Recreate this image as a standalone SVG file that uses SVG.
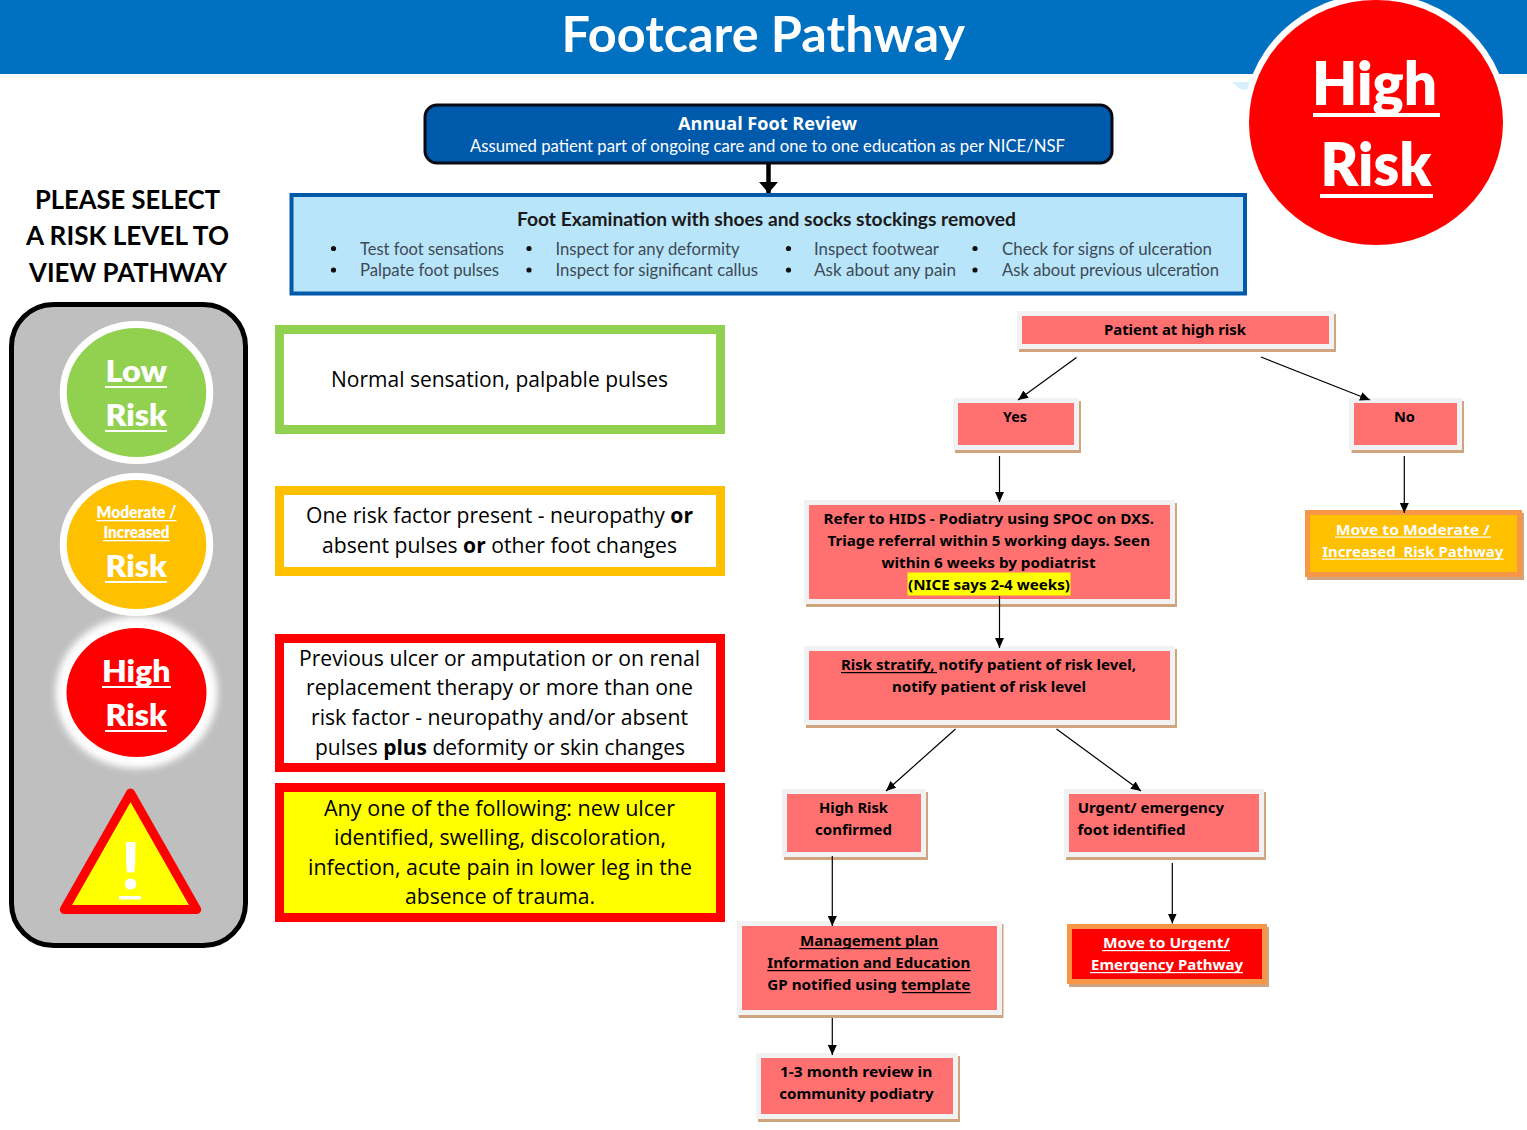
<svg xmlns="http://www.w3.org/2000/svg" width="1527" height="1130" viewBox="0 0 1527 1130">
<style>
text{font-family:"Lato","Liberation Sans",sans-serif}
.w{fill:#fff;font-weight:800}
.ul{fill:#fff}
.ub{fill:#000}
.sh{fill:#cfa57f}
.pk{fill:#ff7070;stroke:#f2f2f2;stroke-width:5}
.fc{font-family:"Noto Sans","Liberation Sans",sans-serif;font-size:15px;font-weight:700;fill:#000;white-space:pre}
.fw{fill:#fff}
.mid{font-family:"Open Sans","Liberation Sans",sans-serif;font-size:21px;fill:#000}
.bx{stroke-width:9}
.it{font-size:18px;fill:#3d4a55}
.bu{fill:#111}
.cn{fill:none;stroke:#000;stroke-width:1.2;marker-end:url(#a)}
</style>
<defs>
<marker id="a" markerUnits="userSpaceOnUse" markerWidth="11" markerHeight="11" refX="10" refY="5" orient="auto"><path d="M0 0.5L10 5L0 9.5Z" fill="#000"/></marker>
<marker id="b" markerUnits="userSpaceOnUse" markerWidth="20" markerHeight="12" refX="10" refY="11" orient="0"><path d="M0.5 0H19.5L10 11Z" fill="#000"/></marker>
<filter id="g" x="-30%" y="-30%" width="160%" height="160%"><feGaussianBlur stdDeviation="3.5"/></filter>
</defs>
<rect width="1527" height="1130" fill="#fff"/>
<g id="header"><rect width="1527" height="74" fill="#0070c0"/>
<text x="561.5" y="52" textLength="403.5" lengthAdjust="spacingAndGlyphs" font-size="50" font-weight="700" fill="#fff">Footcare Pathway</text></g>
<g id="high-risk-badge"><polygon points="1232,82 1250,82 1247,90 1240,89" fill="#d8f0fb"/>
<ellipse cx="1376" cy="122.5" rx="133" ry="129" fill="#fff"/>
<ellipse cx="1376" cy="122.5" rx="127" ry="122.5" fill="#f00"/>
<text class="w" x="1312" y="105" textLength="125" lengthAdjust="spacingAndGlyphs" font-size="60">High</text><rect class="ul" x="1313" y="113" width="127" height="4"/>
<text class="w" x="1320.5" y="186" textLength="111" lengthAdjust="spacingAndGlyphs" font-size="60">Risk</text><rect class="ul" x="1320" y="194" width="113" height="4"/></g>
<g id="select-heading" font-size="27" font-weight="700" fill="#000">
<text x="35" y="209" textLength="185" lengthAdjust="spacingAndGlyphs">PLEASE SELECT</text>
<text x="26" y="245" textLength="203" lengthAdjust="spacingAndGlyphs">A RISK LEVEL TO</text>
<text x="29" y="282" textLength="198" lengthAdjust="spacingAndGlyphs">VIEW PATHWAY</text></g>
<g id="risk-panel"><rect x="11.5" y="304.5" width="234" height="641" rx="42" fill="#bfbfbf" stroke="#000" stroke-width="5"/></g>
<g id="low-risk"><ellipse cx="136.5" cy="392.5" rx="73.25" ry="68" fill="#92d050" stroke="#fff" stroke-width="7"/>
<text class="w" x="105.5" y="381.5" textLength="61.5" lengthAdjust="spacingAndGlyphs" font-size="31">Low</text><rect class="ul" x="105" y="386" width="62" height="2"/>
<text class="w" x="105.5" y="425.5" textLength="61.5" lengthAdjust="spacingAndGlyphs" font-size="31">Risk</text><rect class="ul" x="105" y="430" width="62" height="2"/></g>
<g id="moderate-risk"><ellipse cx="136.5" cy="544.5" rx="73.25" ry="68" fill="#ffc000" stroke="#fff" stroke-width="7"/>
<text class="w" x="96.5" y="518" textLength="80" lengthAdjust="spacingAndGlyphs" font-size="16">Moderate /</text><rect class="ul" x="96.5" y="520" width="80" height="1.3"/>
<text class="w" x="103.5" y="538" textLength="66" lengthAdjust="spacingAndGlyphs" font-size="16">Increased</text><rect class="ul" x="103" y="540" width="67" height="1.3"/>
<text class="w" x="105.5" y="576.5" textLength="61.5" lengthAdjust="spacingAndGlyphs" font-size="31">Risk</text><rect class="ul" x="105" y="581" width="62" height="2"/></g>
<g id="high-risk"><ellipse cx="136.5" cy="692.5" rx="81" ry="76" fill="#fff" filter="url(#g)"/>
<ellipse cx="136.5" cy="692.5" rx="70" ry="64.5" fill="#f00"/>
<text class="w" x="102" y="681.5" textLength="68.5" lengthAdjust="spacingAndGlyphs" font-size="31">High</text><rect class="ul" x="102" y="686" width="69" height="2"/>
<text class="w" x="105.5" y="725.5" textLength="61.5" lengthAdjust="spacingAndGlyphs" font-size="31">Risk</text><rect class="ul" x="105" y="730" width="62" height="2"/></g>
<g id="urgent-warning"><polygon points="130.5,793 64.3,909.5 196.7,909.5" fill="#ff0" stroke="#f00" stroke-width="9" stroke-linejoin="round"/>
<text class="w" x="130.5" y="889" text-anchor="middle" font-size="64">!</text><rect class="ul" x="119" y="896" width="22" height="3.5"/></g>

<g id="annual-review"><rect x="425" y="105" width="687" height="58" rx="12" fill="#005aab" stroke="#0a0a14" stroke-width="3"/>
<text x="678" y="130" textLength="179" lengthAdjust="spacingAndGlyphs" style="font-family:'Open Sans','Liberation Sans',sans-serif" font-size="18" font-weight="700" fill="#fff">Annual Foot Review</text>
<text x="470" y="152" textLength="595" lengthAdjust="spacingAndGlyphs" font-size="18" fill="#fff">Assumed patient part of ongoing care and one to one education as per NICE/NSF</text></g>
<g id="foot-examination"><rect x="291.5" y="195" width="953.5" height="98.5" fill="#b9e5fb" stroke="#0059a9" stroke-width="4"/>
<text x="517" y="226" textLength="499" lengthAdjust="spacingAndGlyphs" font-size="19" font-weight="700" fill="#1a1a1a">Foot Examination with shoes and socks stockings removed</text>
<g class="bu"><circle cx="333.5" cy="248.5" r="2.6"/><circle cx="333.5" cy="270" r="2.6"/><circle cx="529" cy="248.5" r="2.6"/><circle cx="529" cy="270" r="2.6"/><circle cx="788.5" cy="248.5" r="2.6"/><circle cx="788.5" cy="270" r="2.6"/><circle cx="975" cy="248.5" r="2.6"/><circle cx="975" cy="270" r="2.6"/></g>
<text class="it" x="360" y="255" textLength="144" lengthAdjust="spacingAndGlyphs">Test foot sensations</text>
<text class="it" x="360" y="276" textLength="139" lengthAdjust="spacingAndGlyphs">Palpate foot pulses</text>
<text class="it" x="555.5" y="255" textLength="184" lengthAdjust="spacingAndGlyphs">Inspect for any deformity</text>
<text class="it" x="555.5" y="276" textLength="202.5" lengthAdjust="spacingAndGlyphs">Inspect for significant callus</text>
<text class="it" x="814" y="255" textLength="125" lengthAdjust="spacingAndGlyphs">Inspect footwear</text>
<text class="it" x="814" y="276" textLength="142" lengthAdjust="spacingAndGlyphs">Ask about any pain</text>
<text class="it" x="1002" y="255" textLength="210" lengthAdjust="spacingAndGlyphs">Check for signs of ulceration</text>
<text class="it" x="1002" y="276" textLength="217" lengthAdjust="spacingAndGlyphs">Ask about previous ulceration</text></g>

<g id="criteria-low"><rect class="bx" x="279.5" y="329.5" width="441" height="100" fill="#fff" stroke="#92d050"/>
<text class="mid" x="331" y="387" textLength="337" lengthAdjust="spacingAndGlyphs">Normal sensation, palpable pulses</text></g>
<g id="criteria-moderate"><rect class="bx" x="279.5" y="490.5" width="441" height="81" fill="#fff" stroke="#ffc000"/>
<text class="mid" x="306" y="523" textLength="387" lengthAdjust="spacingAndGlyphs">One risk factor present - neuropathy <tspan font-weight="700">or</tspan></text>
<text class="mid" x="322" y="553" textLength="355" lengthAdjust="spacingAndGlyphs">absent pulses <tspan font-weight="700">or</tspan> other foot changes</text></g>
<g id="criteria-high"><rect class="bx" x="279.5" y="638.5" width="441" height="129" fill="#fff" stroke="#f00"/>
<text class="mid" x="299" y="666" textLength="401" lengthAdjust="spacingAndGlyphs">Previous ulcer or amputation or on renal</text>
<text class="mid" x="306" y="695" textLength="387" lengthAdjust="spacingAndGlyphs">replacement therapy or more than one</text>
<text class="mid" x="311" y="725" textLength="377" lengthAdjust="spacingAndGlyphs">risk factor - neuropathy and/or absent</text>
<text class="mid" x="315" y="755" textLength="370" lengthAdjust="spacingAndGlyphs">pulses <tspan font-weight="700">plus</tspan> deformity or skin changes</text></g>
<g id="criteria-urgent"><rect class="bx" x="279.5" y="787.5" width="441" height="130" fill="#ff0" stroke="#f00"/>
<text class="mid" x="324" y="816" textLength="351" lengthAdjust="spacingAndGlyphs">Any one of the following: new ulcer</text>
<text class="mid" x="334" y="845" textLength="332" lengthAdjust="spacingAndGlyphs">identified, swelling, discoloration,</text>
<text class="mid" x="308" y="875" textLength="384" lengthAdjust="spacingAndGlyphs">infection, acute pain in lower leg in the</text>
<text class="mid" x="405" y="904" textLength="190" lengthAdjust="spacingAndGlyphs">absence of trauma.</text></g>

<g id="patient-high-risk"><rect class="sh" x="1019" y="314" width="317" height="38"/><rect class="pk" x="1019.5" y="313.5" width="312" height="33"/>
<text class="fc" x="1104" y="335" textLength="142" lengthAdjust="spacingAndGlyphs">Patient at high risk</text></g>
<g id="yes"><rect class="sh" x="955" y="401" width="126" height="52"/><rect class="pk" x="955.5" y="400.5" width="121" height="47"/>
<text class="fc" x="1003" y="422" textLength="24" lengthAdjust="spacingAndGlyphs">Yes</text></g>
<g id="no"><rect class="sh" x="1351.5" y="401" width="112.5" height="52"/><rect class="pk" x="1351.5" y="400.5" width="108" height="47"/>
<text class="fc" x="1394" y="422" textLength="21" lengthAdjust="spacingAndGlyphs">No</text></g>
<g id="refer-hids"><rect class="sh" x="806" y="503" width="371" height="104"/><rect class="pk" x="806.5" y="502.5" width="366" height="99"/>
<rect x="907.5" y="572.5" width="163" height="23" fill="#ff0"/>
<text class="fc" x="823.5" y="524" textLength="330.5" lengthAdjust="spacingAndGlyphs">Refer to HIDS - Podiatry using SPOC on DXS.</text>
<text class="fc" x="827.5" y="546" textLength="322.5" lengthAdjust="spacingAndGlyphs">Triage referral within 5 working days. Seen</text>
<text class="fc" x="881.5" y="568" textLength="214" lengthAdjust="spacingAndGlyphs">within 6 weeks by podiatrist</text>
<text class="fc" x="908" y="590" textLength="162" lengthAdjust="spacingAndGlyphs">(NICE says 2-4 weeks)</text></g>
<g id="risk-stratify"><rect class="sh" x="806" y="649" width="371" height="79"/><rect class="pk" x="806.5" y="648.5" width="366" height="74"/>
<text class="fc" x="841" y="670" textLength="295" lengthAdjust="spacingAndGlyphs">Risk stratify, notify patient of risk level,</text><rect class="ub" x="841" y="672" width="96" height="1.2"/>
<text class="fc" x="892" y="692" textLength="194" lengthAdjust="spacingAndGlyphs">notify patient of risk level</text></g>
<g id="move-moderate"><rect class="sh" x="1307" y="513" width="217" height="67"/><rect x="1307.5" y="512.5" width="212" height="62" fill="#ffc000" stroke="#f79646" stroke-width="5"/>
<text class="fc fw" x="1335.7" y="534.5" textLength="154" lengthAdjust="spacingAndGlyphs">Move to Moderate /</text><rect class="ul" x="1335" y="536.5" width="156" height="1.2"/>
<text class="fc fw" x="1322.3" y="556.5" textLength="181" lengthAdjust="spacingAndGlyphs">Increased  Risk Pathway</text><rect class="ul" x="1322" y="558.5" width="182" height="1.2"/></g>
<g id="high-risk-confirmed"><rect class="sh" x="784" y="792" width="144" height="68"/><rect class="pk" x="784.5" y="791.5" width="139" height="63"/>
<text class="fc" x="819" y="813" textLength="69" lengthAdjust="spacingAndGlyphs">High Risk</text>
<text class="fc" x="815" y="835" textLength="77" lengthAdjust="spacingAndGlyphs">confirmed</text></g>
<g id="urgent-foot"><rect class="sh" x="1066" y="792" width="200" height="68"/><rect class="pk" x="1066.5" y="791.5" width="195" height="63"/>
<text class="fc" x="1077.7" y="813" textLength="146.5" lengthAdjust="spacingAndGlyphs">Urgent/ emergency</text>
<text class="fc" x="1077.5" y="835" textLength="108" lengthAdjust="spacingAndGlyphs">foot identified</text></g>
<g id="management-plan"><rect class="sh" x="738.5" y="924" width="265" height="94"/><rect class="pk" x="739.5" y="923.5" width="260" height="89"/>
<text class="fc" x="800" y="946" textLength="138" lengthAdjust="spacingAndGlyphs">Management plan</text><rect class="ub" x="799.3" y="948" width="139.4" height="1.2"/>
<text class="fc" x="767.3" y="968" textLength="203" lengthAdjust="spacingAndGlyphs">Information and Education</text><rect class="ub" x="767.3" y="970" width="203.4" height="1.2"/>
<text class="fc" x="767.3" y="990" textLength="203" lengthAdjust="spacingAndGlyphs">GP notified using template</text><rect class="ub" x="902" y="992" width="68.7" height="1.2"/></g>
<g id="review"><rect class="sh" x="758" y="1056" width="202" height="66"/><rect class="pk" x="758.5" y="1055.5" width="197" height="61"/>
<text class="fc" x="780" y="1077" textLength="152.3" lengthAdjust="spacingAndGlyphs">1-3 month review in</text>
<text class="fc" x="779.3" y="1099" textLength="154.4" lengthAdjust="spacingAndGlyphs">community podiatry</text></g>
<g id="move-urgent"><rect class="sh" x="1069" y="927" width="200" height="60"/><rect x="1069.5" y="926.5" width="195" height="55" fill="#f00" stroke="#f79646" stroke-width="5"/>
<text class="fc fw" x="1103" y="948" textLength="127" lengthAdjust="spacingAndGlyphs">Move to Urgent/</text><rect class="ul" x="1102" y="950" width="128" height="1.2"/>
<text class="fc fw" x="1091" y="970" textLength="152" lengthAdjust="spacingAndGlyphs">Emergency Pathway</text><rect class="ul" x="1090" y="972" width="153" height="1.2"/></g>

<g id="connectors">
<path d="M768.5 164V193" fill="none" stroke="#000" stroke-width="4.5" marker-end="url(#b)"/>
<path class="cn" d="M1076.5 357.5L1018 400"/>
<path class="cn" d="M1261 357L1370 400"/>
<path class="cn" d="M999.5 456V502"/>
<path class="cn" d="M1404.3 456V513"/>
<path class="cn" d="M999.5 596V648"/>
<path class="cn" d="M955.5 729L886 791"/>
<path class="cn" d="M1056.5 729L1141 791"/>
<path class="cn" d="M832.3 856V926"/>
<path class="cn" d="M832.3 1018V1055"/>
<path class="cn" d="M1172.3 863V923.5"/>
</g>
</svg>
